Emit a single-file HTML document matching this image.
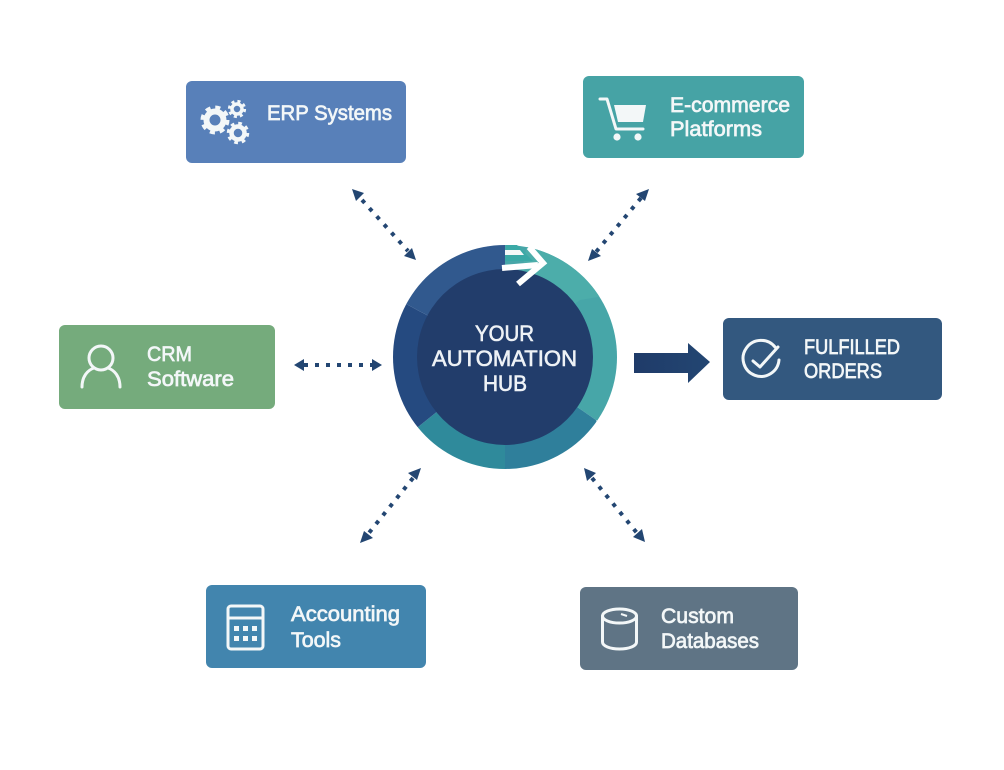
<!DOCTYPE html>
<html><head><meta charset="utf-8"><style>
html,body{margin:0;padding:0;background:#fff}
svg{display:block}
.t{font-family:"Liberation Sans",sans-serif;font-size:21px;fill:#f3f7f8;stroke:#f3f7f8;stroke-width:.7px}
.h{font-size:22px;fill:#eef2f6;stroke:#eef2f6;stroke-width:.6px}
.i{fill:none;stroke:#f3f7f8;stroke-width:3;stroke-linecap:round;stroke-linejoin:round}
.d{stroke:#234672;stroke-width:4;stroke-dasharray:4 7;fill:none}
.a{fill:#234672}
</style></head><body>
<svg width="1004" height="770" viewBox="0 0 1004 770" xmlns="http://www.w3.org/2000/svg">
<defs>
<linearGradient id="g1" x1="0" y1="0" x2="1" y2="0"><stop offset="0" stop-color="#1f3b69"/><stop offset="1" stop-color="#234672"/></linearGradient>
<clipPath id="ring"><circle cx="505" cy="357" r="112"/></clipPath>
</defs>
<rect width="1004" height="770" fill="#fff"/>

<!-- boxes -->
<rect x="186" y="81" width="220" height="82" rx="6" fill="#5880b9"/>
<rect x="583" y="76" width="221" height="82" rx="6" fill="#46a3a5"/>
<rect x="59" y="325" width="216" height="84" rx="6" fill="#75ab7c"/>
<rect x="723" y="318" width="219" height="82" rx="6" fill="#33587f"/>
<rect x="206" y="585" width="220" height="83" rx="6" fill="#4285ae"/>
<rect x="580" y="587" width="218" height="83" rx="6" fill="#5f7485"/>

<!-- hub ring -->
<g clip-path="url(#ring)">
<polygon points="505,357 505,230 640,230 640,450 596,420" fill="#47a6a8"/>
<polygon points="505,357 530,230 640,230 640,290 580,300" fill="#4cadaa"/>
<polygon points="505,357 596,420 620,480 505,480" fill="#2f7f9b"/>
<polygon points="505,357 505,480 390,480 418,427" fill="#2f8a9b"/>
<polygon points="505,357 418,427 380,460 380,290 408,305" fill="#254a80"/>
<polygon points="505,357 408,305 380,290 380,230 505,230" fill="#31598e"/>
</g>
<circle cx="505" cy="357" r="88" fill="#223d6b"/>

<!-- top arrow -->
<polygon points="506,245 517,245 533,261 505,261" fill="#3aa9a6"/>
<polygon points="505,250 520,250 524,255 505,255" fill="#f4f8f8"/>
<path d="M502,268 L538,265" stroke="#fff" stroke-width="6" fill="none"/>
<path d="M529,247 L543,263 L518,284" stroke="#fff" stroke-width="6" fill="none"/>

<!-- hub text -->
<text class="t h" x="475" y="341" textLength="59" lengthAdjust="spacingAndGlyphs">YOUR</text>
<text class="t h" x="432" y="366" textLength="145" lengthAdjust="spacingAndGlyphs">AUTOMATION</text>
<text class="t h" x="483" y="391" textLength="44" lengthAdjust="spacingAndGlyphs">HUB</text>

<!-- labels -->
<text class="t" x="267" y="120" textLength="125" lengthAdjust="spacingAndGlyphs">ERP Systems</text>
<text class="t" x="670" y="112" textLength="120" lengthAdjust="spacingAndGlyphs">E-commerce</text>
<text class="t" x="670" y="136" textLength="92" lengthAdjust="spacingAndGlyphs">Platforms</text>
<text class="t" x="147" y="361" textLength="45" lengthAdjust="spacingAndGlyphs">CRM</text>
<text class="t" x="147" y="386" textLength="87" lengthAdjust="spacingAndGlyphs">Software</text>
<text class="t" x="804" y="354" textLength="96" lengthAdjust="spacingAndGlyphs">FULFILLED</text>
<text class="t" x="804" y="378" textLength="78" lengthAdjust="spacingAndGlyphs">ORDERS</text>
<text class="t" x="291" y="621" textLength="109" lengthAdjust="spacingAndGlyphs">Accounting</text>
<text class="t" x="291" y="647" textLength="50" lengthAdjust="spacingAndGlyphs">Tools</text>
<text class="t" x="661" y="623" textLength="73" lengthAdjust="spacingAndGlyphs">Custom</text>
<text class="t" x="661" y="648" textLength="98" lengthAdjust="spacingAndGlyphs">Databases</text>

<!-- gears -->
<g fill="none" stroke="#f3f7f8">
<circle cx="215" cy="120" r="8.5" stroke-width="6"/>
<circle cx="215" cy="120" r="12.5" stroke-width="4" stroke-dasharray="5 4.8"/>
<circle cx="237" cy="109" r="5" stroke-width="3.5"/>
<circle cx="237" cy="109" r="7.6" stroke-width="3" stroke-dasharray="3 3"/>
<circle cx="238" cy="133" r="6.5" stroke-width="4.5"/>
<circle cx="238" cy="133" r="9.5" stroke-width="3.5" stroke-dasharray="3.6 3.85"/>
</g>

<!-- cart -->
<path class="i" d="M600,99 H607 L616,129 H643"/>
<polygon points="614,105 646,105 643,122 618,122" fill="#f3f7f8"/>
<circle cx="617" cy="137" r="3.6" fill="#f3f7f8"/>
<circle cx="638" cy="137" r="3.6" fill="#f3f7f8"/>

<!-- user -->
<circle class="i" cx="101" cy="358" r="12"/>
<path class="i" d="M82,387 C82,376 88,370 94,368 M120,387 C120,376 114,370 108,368"/>

<!-- check -->
<path class="i" d="M775,347 A18,18 0 1 0 779,360"/>
<path class="i" d="M753,361 L760,367 L778,347"/>

<!-- calc -->
<rect class="i" x="228" y="606" width="35" height="43" rx="3"/>
<path class="i" d="M228,618 H263"/>
<g fill="#f3f7f8">
<rect x="234" y="626" width="5" height="5"/><rect x="243" y="626" width="5" height="5"/><rect x="252" y="626" width="5" height="5"/>
<rect x="234" y="636" width="5" height="5"/><rect x="243" y="636" width="5" height="5"/><rect x="252" y="636" width="5" height="5"/>
</g>

<!-- db -->
<ellipse class="i" cx="619.5" cy="616" rx="17" ry="7"/>
<path class="i" d="M602.5,616 V642 C602.5,646 610,649 619.5,649 C629,649 636.5,646 636.5,642 V616"/>
<path d="M621,614 L627,616" stroke="#f3f7f8" stroke-width="2"/>

<!-- dotted connectors -->
<path class="d" d="M362,200 L408,251"/>
<polygon class="a" points="352,189 364,193 356,201"/>
<polygon class="a" points="416,260 404,256 412,248"/>
<path class="d" d="M641,198 L596,252"/>
<polygon class="a" points="649,189 645,201 636,194"/>
<polygon class="a" points="588,261 592,249 601,256"/>
<path class="d" d="M304,365 H374"/>
<polygon class="a" points="294,365 304,359 304,371"/>
<polygon class="a" points="382,365 372,359 372,371"/>
<path class="d" d="M413,478 L368,534"/>
<polygon class="a" points="421,468 417,480 408,473"/>
<polygon class="a" points="360,543 364,531 373,538"/>
<path class="d" d="M592,478 L637,533"/>
<polygon class="a" points="584,468 596,473 587,481"/>
<polygon class="a" points="645,542 633,537 642,529"/>

<!-- big arrow -->
<polygon points="634,353 688,353 688,343 710,362 688,383 688,373 634,373" fill="url(#g1)"/>
</svg>
</body></html>
